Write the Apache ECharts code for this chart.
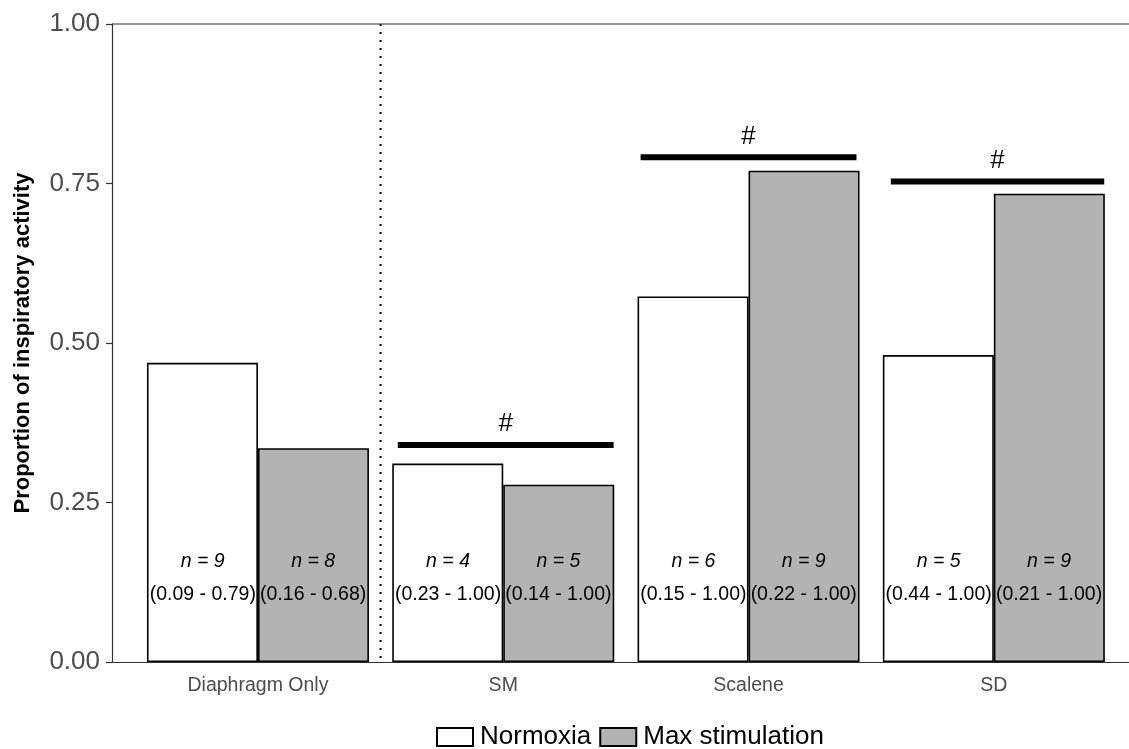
<!DOCTYPE html>
<html>
<head>
<meta charset="utf-8">
<script src="https://cdn.jsdelivr.net/npm/echarts@6/dist/echarts.min.js"></script>
<style>
html,body{margin:0;padding:0;background:#fff;}
#chart{width:1129px;height:749px;}
</style>
</head>
<body>
<div id="chart"></div>
<script>
// ---- data ----
const categories = ['Diaphragm Only', 'SM', 'Scalene', 'SD'];
const categoryPos = [1, 2, 3, 4];
const normoxia = [0.469, 0.311, 0.573, 0.481];
const maxStim = [0.335, 0.278, 0.770, 0.734];
const nNormoxia = [9, 4, 6, 5];
const nMax = [8, 5, 9, 9];
const rangeNormoxia = ['(0.09 - 0.79)', '(0.23 - 1.00)', '(0.15 - 1.00)', '(0.44 - 1.00)'];
const rangeMax = ['(0.16 - 0.68)', '(0.14 - 1.00)', '(0.22 - 1.00)', '(0.21 - 1.00)'];
const sigStart = [1.57, 2.56, 3.58];
const sigEnd = [2.45, 3.44, 4.45];
const sigLevel = [0.340, 0.791, 0.753];
const sigLabel = ['#', '#', '#'];
const nLabelY = 0.158;
const rangeLabelY = 0.106;
const dividerX = 1.5;
const topLineY = 1.0;

const FONT = '"Liberation Sans", Arial, sans-serif';
const chart = echarts.init(document.getElementById('chart'));

const annot = [];
categoryPos.forEach((c, i) => {
  annot.push([c - 0.225, nLabelY, 'n = ' + nNormoxia[i], 'n']);
  annot.push([c + 0.225, nLabelY, 'n = ' + nMax[i], 'n']);
  annot.push([c - 0.225, rangeLabelY, rangeNormoxia[i], 'r']);
  annot.push([c + 0.225, rangeLabelY, rangeMax[i], 'r']);
});
const sigData = sigStart.map((s, i) => [s, sigEnd[i], sigLevel[i], sigLabel[i]]);

chart.setOption({
  animation: false,
  textStyle: { fontFamily: FONT },
  grid: { left: 112, right: 0, top: 24, bottom: 87, containLabel: false },
  legend: {
    left: 436, top: 723, icon: 'rect',
    itemWidth: 36, itemHeight: 18, itemGap: 8, padding: 0,
    textStyle: { fontSize: 26, lineHeight: 28, color: '#000', fontFamily: FONT, padding: [0, 0, 0, 2] },
    data: ['Normoxia', 'Max stimulation']
  },
  xAxis: {
    type: 'value', min: 0.405, max: 4.551,
    axisLine: { show: true, lineStyle: { color: '#333', width: 1.2 } },
    axisTick: { show: false },
    splitLine: { show: false },
    axisLabel: {
      customValues: categoryPos,
      formatter: v => categories[Math.round(v) - 1] || '',
      fontSize: 19.5, color: '#4d4d4d', margin: 14, fontFamily: FONT
    }
  },
  yAxis: {
    type: 'value', min: 0, max: 1, interval: 0.25,
    name: 'Proportion of inspiratory activity',
    nameLocation: 'middle', nameGap: 78,
    nameTextStyle: { fontSize: 22, fontWeight: 'bold', color: '#000', fontFamily: FONT },
    axisLine: { show: true, lineStyle: { color: '#333', width: 1.2 } },
    axisTick: { show: true, length: 6, lineStyle: { color: '#333', width: 1.2 } },
    splitLine: { show: false },
    axisLabel: { fontSize: 26, color: '#4d4d4d', margin: 12, formatter: v => v.toFixed(2), fontFamily: FONT }
  },
  series: [
    {
      name: 'Normoxia', type: 'bar', barWidth: 111, barGap: '0%',
      itemStyle: { color: '#ffffff', borderColor: '#000', borderWidth: 1.6 },
      data: categoryPos.map((c, i) => [c, normoxia[i]]),
      z: 2
    },
    {
      name: 'Max stimulation', type: 'bar', barWidth: 111, barGap: '0%',
      itemStyle: { color: '#b3b3b3', borderColor: '#000', borderWidth: 1.6 },
      data: categoryPos.map((c, i) => [c, maxStim[i]]),
      z: 2
    },
    {
      type: 'custom', silent: true, z: 1,
      data: [[dividerX, topLineY]],
      encode: { x: 0, y: 1 },
      renderItem: (params, api) => {
        const top = api.coord([dividerX, topLineY]);
        const bot = api.coord([dividerX, 0]);
        const left = api.coord([0.405, topLineY]);
        const right = api.coord([4.551, topLineY]);
        return {
          type: 'group',
          children: [
            { type: 'line', shape: { x1: top[0], y1: top[1], x2: bot[0], y2: bot[1] },
              style: { stroke: '#000', lineWidth: 2, lineDash: [2, 6] } },
            { type: 'line', shape: { x1: left[0], y1: left[1], x2: right[0], y2: right[1] },
              style: { stroke: '#333', lineWidth: 1.2 } }
          ]
        };
      }
    },
    {
      type: 'custom', silent: true, z: 5,
      data: annot,
      encode: { x: 0, y: 1 },
      renderItem: (params, api) => {
        const p = api.coord([api.value(0), api.value(1)]);
        const d = annot[params.dataIndex];
        return {
          type: 'text', x: p[0], y: p[1],
          style: {
            text: d[2], align: 'center', verticalAlign: 'middle',
            fontSize: 19.5, fontFamily: FONT, fill: '#000',
            fontStyle: d[3] === 'n' ? 'italic' : 'normal'
          }
        };
      }
    },
    {
      type: 'custom', silent: true, z: 5,
      data: sigData,
      encode: { x: [0, 1], y: 2 },
      renderItem: (params, api) => {
        const a = api.coord([api.value(0), api.value(2)]);
        const b = api.coord([api.value(1), api.value(2)]);
        return {
          type: 'group',
          children: [
            { type: 'line', shape: { x1: a[0], y1: a[1], x2: b[0], y2: b[1] },
              style: { stroke: '#000', lineWidth: 6 } },
            { type: 'text', x: (a[0] + b[0]) / 2, y: a[1] - 21,
              style: { text: sigData[params.dataIndex][3], align: 'center', verticalAlign: 'middle',
                fontSize: 26, fontFamily: FONT, fill: '#000' } }
          ]
        };
      }
    }
  ]
});
</script>
</body>
</html>
